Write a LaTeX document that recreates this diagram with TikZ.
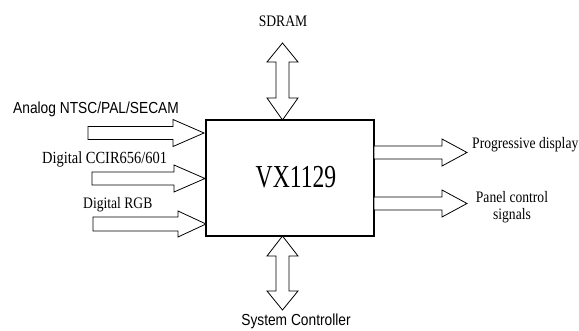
\documentclass[tikz,border=0pt]{standalone}
\usepackage{fontspec}
\setmainfont{Liberation Serif}[FakeStretch=0.85]
\newfontfamily\lblsans{Liberation Sans}[FakeStretch=0.86]
\newfontfamily\bigserif{Liberation Serif}[FakeStretch=0.74]
\begin{document}
\begin{tikzpicture}[x=1pt,y=-1pt,
  blk/.style={draw=black,fill=white,line width=0.8pt,line join=miter},
  chip/.style={draw=black,line width=1.7pt,fill=white},
  serlbl/.style={inner sep=0pt,font=\fontsize{16}{17.5}\selectfont},
  sanslbl/.style={inner sep=0pt,font=\lblsans\fontsize{16}{17.5}\selectfont}]
\useasboundingbox (0,0) rectangle (579,331);
% horizontal block arrow: start x, shoulder x, tip x, center y, shaft half, head half
\newcommand\harrow[6]{%
  \draw[blk] (#1,#4-#5) -- (#2,#4-#5) -- (#2,#4-#6) -- (#3,#4) -- (#2,#4+#6)
    -- (#2,#4+#5) -- (#1,#4+#5) -- cycle;}
% vertical double arrow: center x, top tip, top shoulder, bottom shoulder, bottom tip, shaft half, head half
\newcommand\vdarrow[7]{%
  \draw[blk] (#1,#2) -- (#1+#7,#3) -- (#1+#6,#3) -- (#1+#6,#4) -- (#1+#7,#4)
    -- (#1,#5) -- (#1-#7,#4) -- (#1-#6,#4) -- (#1-#6,#3) -- (#1-#7,#3) -- cycle;}

% main chip
\node[chip,minimum width=168pt,minimum height=116pt,inner sep=0pt] (chip) at (290,178) {};
\node[inner sep=0pt,font=\bigserif\fontsize{32}{34}\selectfont] (vx) at (296,177) {VX1129};

% inputs
\harrow{88}{173}{204}{133}{6.5}{13.5}
\harrow{92}{174}{205}{178.5}{6.5}{13.5}
\harrow{93}{178}{206}{224}{7}{13}

% outputs
\harrow{374}{442}{467}{152.5}{6.5}{13.5}
\harrow{374}{442}{467}{203.5}{6.5}{13.5}

% memory and controller
\vdarrow{282.5}{43}{62}{98}{120}{6.5}{15.5}
\vdarrow{282.5}{236}{256}{291}{310}{6.5}{15.5}

% labels
\node[serlbl] (sdram) at (283,21) {SDRAM};
\node[sanslbl,anchor=west] (analog) at (13,109) {Analog NTSC/PAL/SECAM};
\node[serlbl,anchor=west,font=\fontsize{17}{18}\selectfont] (ccir) at (42,159) {Digital CCIR656/601};
\node[serlbl,anchor=west] (rgb) at (83,205) {Digital RGB};
\node[serlbl,anchor=west] (prog) at (472,145) {Progressive display};
\node[serlbl,align=center] (panel) at (512,207) {Panel control\\signals};
\node[sanslbl] (sysc) at (296,321.5) {System Controller};
\end{tikzpicture}
\end{document}
